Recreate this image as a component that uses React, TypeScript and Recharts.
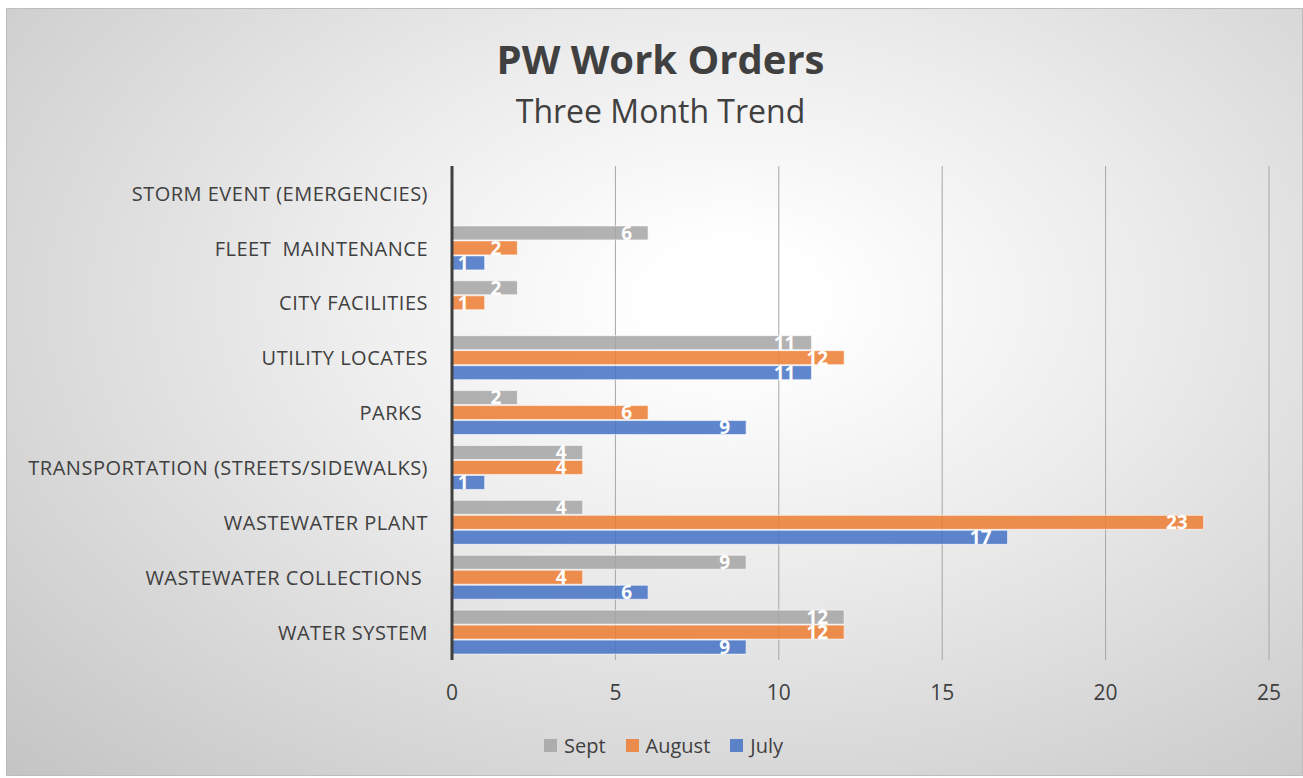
import {
  Bar,
  BarChart,
  CartesianGrid,
  LabelList,
  Legend,
  XAxis,
  YAxis,
} from "recharts";

const categories = [
  "STORM EVENT (EMERGENCIES)",
  "FLEET  MAINTENANCE",
  "CITY FACILITIES",
  "UTILITY LOCATES",
  "PARKS ",
  "TRANSPORTATION (STREETS/SIDEWALKS)",
  "WASTEWATER PLANT",
  "WASTEWATER COLLECTIONS ",
  "WATER SYSTEM",
];
const sept = [0, 6, 2, 11, 2, 4, 4, 9, 12];
const august = [0, 2, 1, 12, 6, 4, 23, 4, 12];
const july = [0, 1, 0, 11, 9, 1, 17, 6, 9];
const xTicks = [0, 5, 10, 15, 20, 25];

const SERIES = [
  { key: "sept", name: "Sept", color: "#a5a5a5" },
  { key: "august", name: "August", color: "#ed7d31" },
  { key: "july", name: "July", color: "#4472c4" },
];

const FONT = "'Open Sans', 'Liberation Sans', sans-serif";
const TEXT = "#404040";

function CategoryTick({ x, y, payload }: { x?: number; y?: number; payload?: { value: string } }) {
  return (
    <text
      x={x}
      y={y}
      dy="0.36em"
      textAnchor="end"
      fill={TEXT}
      fontSize={20}
      fontFamily={FONT}
      letterSpacing={0.5}
      style={{ whiteSpace: "pre" }}
    >
      {payload?.value}
    </text>
  );
}

function BarValue(props: any) {
  const { x, y, width, height, value } = props;
  if (!value) return null;
  return (
    <text
      x={x + width - 16}
      y={y + height / 2}
      dy="0.36em"
      textAnchor="end"
      fill="#ffffff"
      fontSize={19}
      fontWeight={700}
      fontFamily={FONT}
    >
      {value}
    </text>
  );
}

function ChartLegend() {
  return (
    <div
      style={{
        height: 30,
        display: "flex",
        justifyContent: "center",
        alignItems: "center",
        gap: 20,
        fontFamily: FONT,
        fontSize: 20,
        color: TEXT,
        paddingLeft: 52,
      }}
    >
      {SERIES.map((s) => (
        <span key={s.key} style={{ display: "flex", alignItems: "center", gap: 7 }}>
          <span style={{ width: 13, height: 13, background: s.color, opacity: 0.85 }} />
          {s.name}
        </span>
      ))}
    </div>
  );
}

export default function App() {
  const data = categories.map((name, i) => ({
    name,
    sept: sept[i],
    august: august[i],
    july: july[i],
  }));

  return (
    <div
      style={{
        position: "absolute",
        left: 6,
        top: 8,
        width: 1297,
        height: 768,
        border: "1px solid #bdbdbd",
        boxSizing: "border-box",
        background:
          "radial-gradient(ellipse farthest-corner at 56% 38%, #ffffff 8%, #ececec 40%, #c4c4c4 100%)",
        fontFamily: FONT,
      }}
    >
      <div
        style={{
          position: "absolute",
          top: 22,
          width: "100%",
          textAlign: "center",
          fontSize: 40,
          fontWeight: 700,
          color: TEXT,
          paddingLeft: 12,
          boxSizing: "border-box",
        }}
      >
        PW Work Orders
      </div>
      <div
        style={{
          position: "absolute",
          top: 80,
          width: "100%",
          textAlign: "center",
          fontSize: 32,
          color: TEXT,
          paddingLeft: 12,
          boxSizing: "border-box",
        }}
      >
        Three Month Trend
      </div>
      <BarChart
        width={1297}
        height={768}
        data={data}
        layout="vertical"
        barCategoryGap={5}
        barGap={1}
        margin={{ top: 158, right: 34, bottom: 16, left: 0 }}
        style={{ position: "absolute", left: -1, top: -1 }}
      >
        <CartesianGrid horizontal={false} stroke="#a6a6a6" />
        <XAxis
          type="number"
          domain={[0, 25]}
          ticks={xTicks}
          axisLine={false}
          tickLine={false}
          height={70}
          tickMargin={19}
          tick={{ fill: TEXT, fontSize: 21, fontFamily: FONT }}
        />
        <YAxis
          type="category"
          dataKey="name"
          width={446}
          axisLine={{ stroke: "#404040", strokeWidth: 3 }}
          tickLine={false}
          tickMargin={18}
          interval={0}
          tick={<CategoryTick />}
        />
        <Legend verticalAlign="bottom" content={<ChartLegend />} />
        {SERIES.map((s) => (
          <Bar
            key={s.key}
            dataKey={s.key}
            name={s.name}
            fill={s.color}
            fillOpacity={0.85}
            stroke="#ffffff"
            strokeOpacity={0.6}
            isAnimationActive={false}
          >
            <LabelList dataKey={s.key} content={<BarValue />} />
          </Bar>
        ))}
      </BarChart>
    </div>
  );
}
